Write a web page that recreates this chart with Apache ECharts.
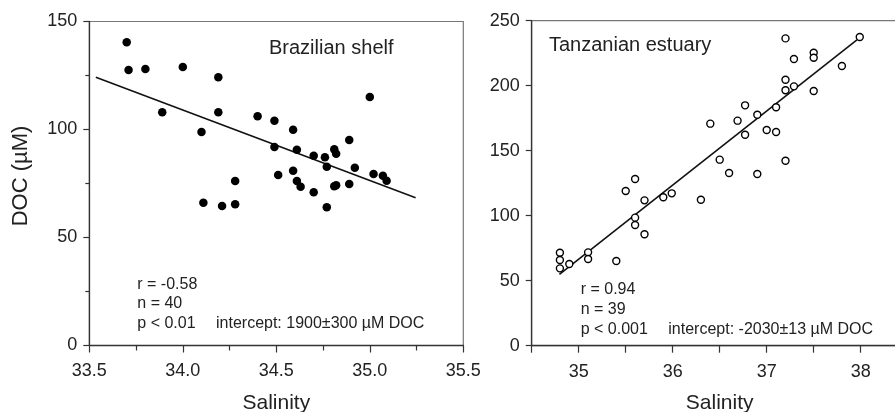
<!DOCTYPE html>
<html>
<head>
<meta charset="utf-8">
<script src="https://cdn.jsdelivr.net/npm/echarts@6/dist/echarts.min.js"></script>
<style>
html,body{margin:0;padding:0;background:#fff;}
#c{width:895px;height:412px;}
</style>
</head>
<body>
<div id="c"></div>
<script>
// Brazilian shelf (filled circles)
var brazilSalinity = [33.70,33.71,33.80,34.00,34.19,33.89,34.19,34.10,34.40,34.49,34.59,35.00,34.49,34.61,34.70,34.76,34.81,34.82,34.89,34.77,34.92,34.59,34.51,35.02,35.07,35.09,34.61,34.63,34.70,34.81,34.82,34.89,34.28,34.11,34.21,34.28,34.77];
var brazilDoc      = [140.4,127.5,128.0,128.9,124.2,108.0,108.0,98.8,106.1,104.1,99.9,115.0,91.9,90.6,87.9,87.1,90.8,88.8,95.1,82.8,82.3,80.9,78.9,79.4,78.6,76.3,76.2,73.5,70.9,73.7,74.2,74.8,76.2,66.1,64.6,65.4,64.0];
var brazilFitX = [33.535, 35.245];
var brazilFitY = [124.2, 68.4];

// Tanzanian estuary (open circles)
var tanzSalinity = [37.20,37.99,37.29,37.50,37.50,37.80,37.20,37.20,37.29,37.50,36.77,37.10,36.90,36.69,36.40,37.00,37.10,36.77,36.50,37.20,36.60,36.90,35.60,35.50,35.99,35.90,36.30,35.70,35.60,35.60,35.70,34.80,34.80,34.80,34.90,35.10,35.10,35.40];
var tanzDoc      = [236.4,237.5,220.5,225.4,221.5,215.2,204.6,196.5,199.5,195.9,184.9,183.4,177.7,173.1,170.8,165.9,164.4,162.3,143.1,142.3,132.8,132.1,128.2,119.0,117.2,114.2,112.3,111.8,98.5,92.8,85.7,71.5,65.9,59.5,62.8,71.8,66.7,65.2];
var tanzFitX = [34.795, 37.96];
var tanzFitY = [54.9, 235.2];

var leftXTicks = [33.5, 34.0, 34.5, 35.0, 35.5];
var leftYTicks = [0, 50, 100, 150];
var rightXTicks = [35, 36, 37, 38];
var rightYTicks = [0, 50, 100, 150, 200, 250];

var leftStats = ['r = -0.58', 'n = 40', 'p < 0.01'];
var leftIntercept = 'intercept: 1900\u00b1300 \u00b5M DOC';
var rightStats = ['r = 0.94', 'n = 39', 'p < 0.001'];
var rightIntercept = 'intercept: -2030\u00b113 \u00b5M DOC';

function zip(a, b){ return a.map(function(v,i){ return [v, b[i]]; }); }

var FONT = 'Liberation Sans, Arial, sans-serif';
var AX = '#333';
var TXT = '#222';

function xAxisCfg(idx, min, max, labelsOnInt, minor){
  return {
    type:'value', gridIndex: idx, min:min, max:max, interval:0.5,
    axisLine:{show:true, onZero:false, lineStyle:{color:AX, width:1.3}},
    axisTick:{show:true, inside:false, length:7, lineStyle:{color:AX, width:1.2}},
    minorTick:{show:minor, splitNumber:2, length:5, lineStyle:{color:AX, width:1.2}},
    splitLine:{show:false}, minorSplitLine:{show:false},
    axisLabel:{fontFamily:FONT, fontSize:18, color:TXT, margin:17,
      showMinLabel:true, showMaxLabel:true,
      formatter:function(v){
        if (labelsOnInt) { return (Math.abs(v - Math.round(v)) < 1e-6 && rightXTicks.indexOf(Math.round(v))>=0) ? String(Math.round(v)) : ''; }
        for (var i=0;i<leftXTicks.length;i++){ if (Math.abs(v-leftXTicks[i])<1e-6) return leftXTicks[i].toFixed(1); }
        return '';
      }},
    name:'Salinity', nameLocation:'middle', nameGap:47,
    nameTextStyle:{fontFamily:FONT, fontSize:21, color:TXT}
  };
}
function yAxisCfg(idx, min, max, minor){
  return {
    type:'value', gridIndex: idx, min:min, max:max, interval:50,
    axisLine:{show:true, onZero:false, lineStyle:{color:AX, width:1.3}},
    axisTick:{show:true, inside:false, length:6, lineStyle:{color:AX, width:1.2}},
    minorTick:{show:minor, splitNumber:2, length:4, lineStyle:{color:AX, width:1.2}},
    splitLine:{show:false}, minorSplitLine:{show:false},
    axisLabel:{fontFamily:FONT, fontSize:18, color:TXT, margin:12}
  };
}

var chart = echarts.init(document.getElementById('c'), null, {renderer:'canvas'});

var graphics = [];
graphics.push({type:'text', x:20.7, y:176, rotation:Math.PI/2,
  style:{text:'DOC (\u00b5M)', font:'22px ' + FONT, fill:TXT, textAlign:'center', textVerticalAlign:'middle'}});
graphics.push({type:'text', x:269, y:48.3,
  style:{text:'Brazilian shelf', font:'20px ' + FONT, fill:TXT, textAlign:'left', textVerticalAlign:'middle'}});
graphics.push({type:'text', x:549, y:45,
  style:{text:'Tanzanian estuary', font:'20px ' + FONT, fill:TXT, textAlign:'left', textVerticalAlign:'middle'}});
var lY = [284.3, 304, 324], rY = [290, 310, 330];
leftStats.forEach(function(s,i){
  graphics.push({type:'text', x:137.3, y:lY[i], style:{text:s, font:'16px ' + FONT, fill:TXT, textAlign:'left', textVerticalAlign:'middle'}});
});
rightStats.forEach(function(s,i){
  graphics.push({type:'text', x:580.7, y:rY[i], style:{text:s, font:'16px ' + FONT, fill:TXT, textAlign:'left', textVerticalAlign:'middle'}});
});
graphics.push({type:'text', x:216, y:324, style:{text:leftIntercept, font:'16px ' + FONT, fill:TXT, textAlign:'left', textVerticalAlign:'middle'}});
graphics.push({type:'text', x:668.3, y:330, style:{text:rightIntercept, font:'16px ' + FONT, fill:TXT, textAlign:'left', textVerticalAlign:'middle'}});

chart.setOption({
  animation:false,
  backgroundColor:'#fff',
  grid:[
    {left:89.3, top:21.5, width:374, height:324, outerBoundsMode:'none', containLabel:false, show:true, borderColor:'#777', borderWidth:1.2, backgroundColor:'transparent'},
    {left:531.7, top:20.7, width:376, height:325, outerBoundsMode:'none', containLabel:false, show:true, borderColor:'#777', borderWidth:1.2, backgroundColor:'transparent'}
  ],
  xAxis:[ xAxisCfg(0, 33.5, 35.5, false, true), xAxisCfg(1, 34.5, 38.5, true, false) ],
  yAxis:[ yAxisCfg(0, 0, 150, true), yAxisCfg(1, 0, 250, false) ],
  series:[
    {type:'line', xAxisIndex:0, yAxisIndex:0, data:zip(brazilFitX, brazilFitY), symbol:'none',
      lineStyle:{color:'#111', width:1.6}, z:2},
    {type:'scatter', xAxisIndex:0, yAxisIndex:0, data:zip(brazilSalinity, brazilDoc), symbol:'circle', symbolSize:8.5,
      itemStyle:{color:'#000', opacity:1}, z:3},
    {type:'line', xAxisIndex:1, yAxisIndex:1, data:zip(tanzFitX, tanzFitY), symbol:'none',
      lineStyle:{color:'#111', width:1.6}, z:2},
    {type:'scatter', xAxisIndex:1, yAxisIndex:1, data:zip(tanzSalinity, tanzDoc), symbol:'circle', symbolSize:7,
      itemStyle:{color:'#fff', borderColor:'#000', borderWidth:1.4, opacity:1}, z:3}
  ],
  graphic: graphics
});
</script>
</body>
</html>
